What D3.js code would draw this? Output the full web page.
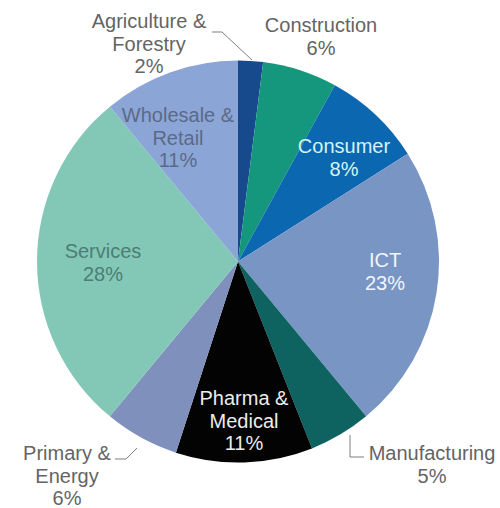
<!DOCTYPE html>
<html>
<head>
<meta charset="utf-8">
<script src="https://cdn.jsdelivr.net/npm/d3@7/dist/d3.min.js"></script>
<style>
  html, body { margin: 0; padding: 0; background: #ffffff; }
  svg { display: block; }
  text { font-family: "Liberation Sans", Arial, sans-serif; font-size: 20px; }
</style>
</head>
<body>
<svg id="chart" width="500" height="508"></svg>
<script>
// Sector shares, clockwise from 12 o'clock
const sectors = ["Agriculture & Forestry", "Construction", "Consumer", "ICT", "Manufacturing",
                 "Pharma & Medical", "Primary & Energy", "Services", "Wholesale & Retail"];
const shares = [2, 6, 8, 23, 5, 11, 6, 28, 11];
const labelLines = [["Agriculture &", "Forestry"], ["Construction"], ["Consumer"], ["ICT"], ["Manufacturing"],
                    ["Pharma &", "Medical"], ["Primary &", "Energy"], ["Services"], ["Wholesale &", "Retail"]];

const fills = ["#164a8c", "#14977c", "#0c67b1", "#7895c4", "#0e6361",
               "#030303", "#8090bd", "#83c8b7", "#8ba6d6"];
const textColors = ["#646464", "#646464", "#d4f4f2", "#f2f5fa", "#646464",
                    "#ececec", "#646464", "#4d7d74", "#5b6a88"];

// Label block anchors (centre x, first baseline y) and leader lines
const labelAnchor = [[149, 28], [321, 32], [344, 153], [385, 267], [432, 460],
                     [244, 405], [67, 460], [103, 258], [178, 122]];
const leaders = {
  0: [[212, 32], [222, 32], [252, 60]],
  4: [[350, 435], [350, 457], [364, 457]],
  6: [[115, 459], [126, 459], [137, 448]]
};
const lineGap = 22.5;

const cx = 238, cy = 261.5, radius = 201;
const svg = d3.select("#chart");

const pie = d3.pie().sort(null).value(d => d.value);
const arc = d3.arc().innerRadius(0).outerRadius(radius);
const data = sectors.map((s, i) => ({ name: s, value: shares[i], i }));

const g = svg.append("g").attr("transform", `translate(${cx},${cy})`);
g.selectAll("path")
  .data(pie(data))
  .join("path")
  .attr("d", arc)
  .attr("fill", d => fills[d.data.i]);

// Leader lines
const line = d3.line();
Object.entries(leaders).forEach(([k, pts]) => {
  svg.append("path")
    .attr("d", line(pts))
    .attr("fill", "none")
    .attr("stroke", "#7f7f7f")
    .attr("stroke-width", 1);
});

// Category + percentage labels
data.forEach((d, i) => {
  const [x, y] = labelAnchor[i];
  const t = svg.append("text")
    .attr("text-anchor", "middle")
    .attr("fill", textColors[i]);
  const lines = labelLines[i].concat([d.value + "%"]);
  lines.forEach((s, j) => {
    t.append("tspan").attr("x", x).attr("y", y + j * lineGap).text(s);
  });
});
</script>
</body>
</html>
